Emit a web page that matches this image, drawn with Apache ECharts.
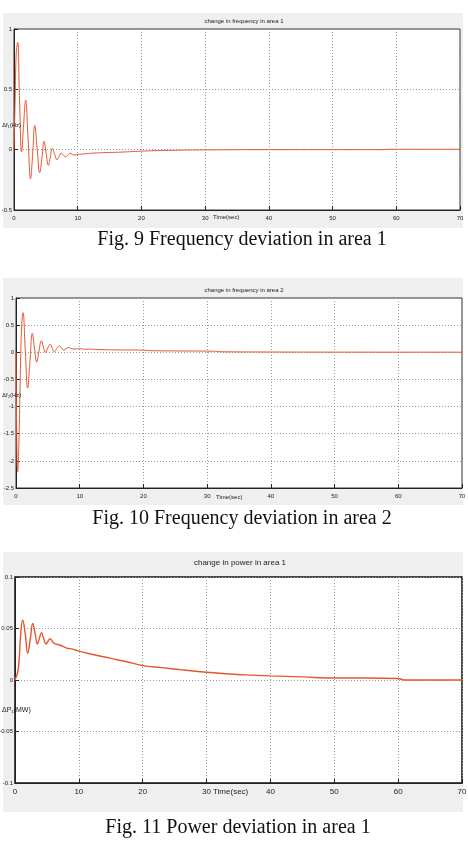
<!DOCTYPE html>
<html>
<head>
<meta charset="utf-8">
<script src="https://cdn.jsdelivr.net/npm/echarts@6/dist/echarts.min.js"></script>
<style>
  html, body { margin: 0; padding: 0; background: #fff; }
  #main { width: 468px; height: 842px; }
</style>
</head>
<body>
<div id="main"></div>
<script>
// area 1 frequency deviation (Hz)
var t1 = [0, 0.15, 0.35, 0.58, 0.85, 1.2, 1.5, 1.83, 2.2, 2.6, 2.95, 3.25, 3.65, 4.03, 4.4, 4.71, 5.05, 5.4, 5.7, 6.02, 6.4, 6.75, 7.1, 7.4, 7.75, 8.1, 8.45, 8.8, 9.4, 10, 11, 12, 14, 17, 20, 25, 30, 40, 50, 58, 58.5, 70];
var f1 = [0, 0.35, 0.8, 0.89, 0.45, -0.02, 0.2, 0.41, 0.1, -0.24, -0.02, 0.2, 0.0, -0.19, -0.06, 0.07, -0.03, -0.13, -0.06, 0.01, -0.04, -0.083, -0.055, -0.028, -0.045, -0.06, -0.045, -0.03, -0.045, -0.04, -0.035, -0.03, -0.025, -0.02, -0.012, -0.005, -0.002, 0, 0, 0, 0.003, 0.003];

// area 2 frequency deviation (Hz)
var t2 = [0, 0.1, 0.26, 0.45, 0.7, 0.9, 1.1, 1.45, 1.83, 2.2, 2.56, 2.9, 3.25, 3.6, 3.98, 4.3, 4.6, 5.0, 5.37, 5.7, 6.0, 6.4, 6.8, 7.15, 7.5, 7.85, 8.2, 8.6, 9.0, 10, 11, 11.3, 12, 15, 20, 21, 25, 31, 32, 40, 50, 60, 70];
var f2 = [0, -1.4, -2.2, -1.7, -0.3, 0.5, 0.73, 0.05, -0.66, -0.15, 0.35, 0.08, -0.18, 0.02, 0.21, 0.1, 0.0, 0.08, 0.15, 0.07, 0.01, 0.07, 0.12, 0.08, 0.04, 0.065, 0.09, 0.07, 0.06, 0.065, 0.055, 0.06, 0.055, 0.045, 0.04, 0.03, 0.025, 0.02, 0.01, 0.005, 0.003, 0.002, 0.002];

// area 1 power deviation (MW)
var t3 = [0, 0.5, 0.9, 1.2, 1.6, 1.99, 2.4, 2.78, 3.15, 3.5, 3.8, 4.14, 4.5, 4.87, 5.2, 5.5, 5.9, 6.3, 7, 8.1, 9, 10, 12, 15, 18, 20, 23, 26, 30, 33, 36, 40, 45, 50, 55, 60, 61, 70];
var p1 = [0, 0.01, 0.045, 0.058, 0.045, 0.026, 0.04, 0.055, 0.045, 0.035, 0.04, 0.046, 0.04, 0.035, 0.038, 0.04, 0.037, 0.035, 0.034, 0.031, 0.03, 0.028, 0.025, 0.021, 0.017, 0.014, 0.012, 0.01, 0.0075, 0.006, 0.005, 0.004, 0.003, 0.002, 0.002, 0.0015, 0, 0];

function zip(xs, ys) {
    var out = [];
    for (var i = 0; i < xs.length; i++) {
        out.push([xs[i], ys[i]]);
    }
    return out;
}

var lineColor = '#e4562f';
var smallFont = 'Liberation Sans Narrow, Liberation Sans, sans-serif';

function xAxisFor(idx, fs) {
    return {
        type: 'value', gridIndex: idx, min: 0, max: 70, interval: 10,
        axisLine: { show: true, onZero: false, lineStyle: { color: '#222' } },
        axisTick: { show: true, inside: true, length: 4, lineStyle: { color: '#222' } },
        axisLabel: { fontSize: fs, color: '#222', margin: 5, fontFamily: smallFont },
        splitLine: { show: true, lineStyle: { color: '#9a9a9a', type: [1, 2] } }
    };
}

function yAxisFor(idx, min, max, step, fs) {
    return {
        type: 'value', gridIndex: idx, min: min, max: max, interval: step,
        axisLine: { show: true, onZero: false, lineStyle: { color: '#222' } },
        axisTick: { show: true, inside: true, length: 4, lineStyle: { color: '#222' } },
        axisLabel: { fontSize: fs, color: '#222', margin: 2, fontFamily: smallFont },
        splitLine: { show: true, lineStyle: { color: '#9a9a9a', type: [1, 2] } }
    };
}

function seriesFor(idx, data, w) {
    return {
        type: 'line', xAxisIndex: idx, yAxisIndex: idx, data: data,
        smooth: 0.45, symbol: 'none',
        lineStyle: { color: lineColor, width: w }
    };
}

function label(x, y, text, size, font, color, align) {
    return {
        type: 'text', x: x, y: y, z: 100,
        style: { text: text, fontSize: size, fontFamily: font, fill: color || '#222', textAlign: align || 'center', textVerticalAlign: 'middle' }
    };
}

function panel(y, h) {
    return { type: 'rect', z: -10, shape: { x: 3, y: y, width: 460, height: h }, style: { fill: '#efefef' } };
}

var chart = echarts.init(document.getElementById('main'));

var option = {
    animation: false,
    backgroundColor: '#fff',
    grid: [
        { left: 14, top: 29, width: 446, height: 181, outerBoundsMode: 'none', containLabel: false, show: true, backgroundColor: '#fff', borderColor: '#333', borderWidth: 1 },
        { left: 16, top: 298, width: 446, height: 190, outerBoundsMode: 'none', containLabel: false, show: true, backgroundColor: '#fff', borderColor: '#333', borderWidth: 1 },
        { left: 15, top: 577, width: 447, height: 206, outerBoundsMode: 'none', containLabel: false, show: true, backgroundColor: '#fff', borderColor: '#111', borderWidth: 1.5 }
    ],
    xAxis: [xAxisFor(0, 6), xAxisFor(1, 6), xAxisFor(2, 8)],
    yAxis: [
        yAxisFor(0, -0.5, 1, 0.5, 6),
        yAxisFor(1, -2.5, 1, 0.5, 6),
        yAxisFor(2, -0.1, 0.1, 0.05, 6)
    ],
    series: [
        seriesFor(0, zip(t1, f1), 1),
        seriesFor(1, zip(t2, f2), 1),
        seriesFor(2, zip(t3, p1), 1.4)
    ],
    graphic: [
        panel(13, 215),
        panel(278, 227),
        panel(552, 260),
        label(244, 21, 'change in frequency in area 1', 6, smallFont),
        label(244, 290, 'change in frequency in area 2', 6, smallFont),
        label(240, 563, 'change in power in area 1', 8, smallFont),
        label(2, 125, 'Δf\u2081(Hz)', 6, smallFont, null, 'left'),
        label(2, 395, 'Δf\u2082(Hz)', 6, smallFont, null, 'left'),
        label(2, 710, 'ΔP\u2081(MW)', 7, smallFont, null, 'left'),
        label(213, 217, 'Time(sec)', 6, smallFont, null, 'left'),
        label(216, 497, 'Time(sec)', 6, smallFont, null, 'left'),
        label(213, 792, 'Time(sec)', 8, smallFont, null, 'left'),
        label(242, 240, 'Fig. 9 Frequency deviation in area 1', 20, 'Liberation Serif, serif', '#111'),
        label(242, 519, 'Fig. 10 Frequency deviation in area 2', 20, 'Liberation Serif, serif', '#111'),
        label(238, 828, 'Fig. 11 Power deviation in area 1', 20, 'Liberation Serif, serif', '#111')
    ]
};

chart.setOption(option);
</script>
</body>
</html>
